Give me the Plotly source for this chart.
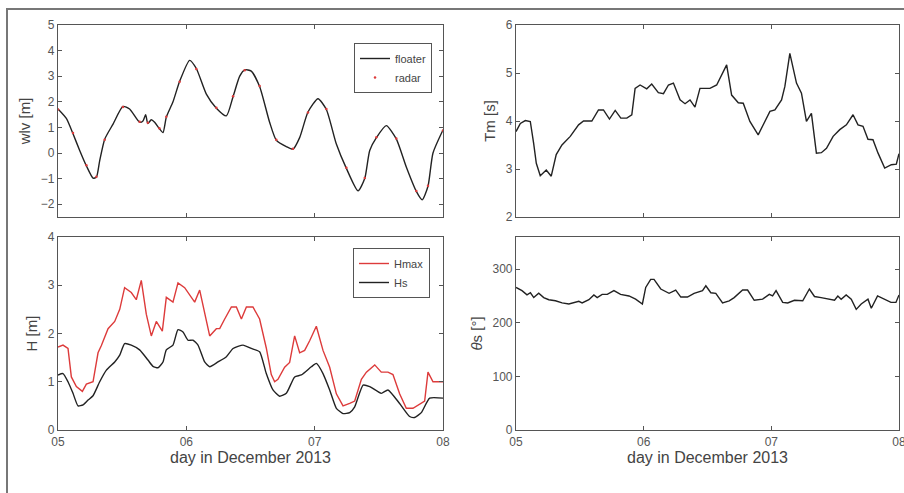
"""Four-panel wave / water level plot - December 2013"""

import plotly.graph_objects as go

# ---- data ----
tick_vals = [5, 6, 7, 8]
tick_text = ["05", "06", "07", "08"]

wlv_day = [5.000, 5.065, 5.117, 5.169, 5.221, 5.273, 5.299, 5.325, 5.364, 5.429,
           5.506, 5.558, 5.636, 5.662, 5.683, 5.700, 5.727, 5.753, 5.790, 5.818,
           5.844, 5.896, 5.948, 6.026, 6.078, 6.156, 6.234, 6.312, 6.364, 6.416,
           6.455, 6.506, 6.571, 6.649, 6.701, 6.779, 6.831, 6.883, 6.948, 7.026,
           7.091, 7.169, 7.247, 7.338, 7.390, 7.429, 7.481, 7.558, 7.636, 7.714,
           7.792, 7.838, 7.883, 7.922, 8.000]
wlv_floater = [1.72, 1.35, 0.75, 0.10, -0.50, -0.98, -0.95, -0.30, 0.54, 1.13,
               1.82, 1.72, 1.20, 1.25, 1.50, 1.15, 1.30, 1.20, 0.95, 0.80,
               1.40, 2.00, 2.80, 3.62, 3.30, 2.30, 1.75, 1.45, 2.20, 3.00,
               3.25, 3.20, 2.60, 1.20, 0.50, 0.25, 0.15, 0.60, 1.60, 2.12,
               1.70, 0.35, -0.60, -1.48, -1.00, 0.10, 0.60, 1.07, 0.55, -0.55,
               -1.50, -1.83, -1.30, 0.00, 0.90]

radar_day = [5.000, 5.117, 5.221, 5.299, 5.364, 5.506, 5.636, 5.700, 5.790, 5.844,
             5.948, 6.078, 6.234, 6.364, 6.455, 6.571, 6.701, 6.831, 6.948, 7.091,
             7.247, 7.390, 7.481, 7.636, 7.792, 7.883, 8.000]
radar_wlv = [1.70, 0.78, -0.48, -0.93, 0.52, 1.80, 1.22, 1.18, 0.97, 1.42,
             2.78, 3.28, 1.77, 2.22, 3.23, 2.62, 0.52, 0.17, 1.58, 1.72,
             -0.58, -0.98, 0.62, 0.57, -1.48, -1.28, 0.88]

hmax_day = [5.000, 5.039, 5.078, 5.104, 5.143, 5.190, 5.221, 5.260, 5.273, 5.312,
            5.338, 5.390, 5.442, 5.481, 5.519, 5.571, 5.610, 5.649, 5.688, 5.727,
            5.766, 5.813, 5.844, 5.896, 5.935, 5.987, 6.065, 6.104, 6.143, 6.182,
            6.234, 6.260, 6.299, 6.351, 6.390, 6.429, 6.468, 6.519, 6.571, 6.623,
            6.662, 6.688, 6.714, 6.766, 6.805, 6.844, 6.883, 6.922, 6.961, 7.013,
            7.065, 7.117, 7.169, 7.221, 7.273, 7.312, 7.364, 7.403, 7.468, 7.519,
            7.571, 7.610, 7.662, 7.714, 7.766, 7.831, 7.857, 7.883, 7.922, 8.000]
hmax = [1.72, 1.76, 1.69, 1.10, 0.90, 0.80, 0.95, 1.00, 1.00, 1.60,
        1.75, 2.10, 2.25, 2.50, 2.95, 2.85, 2.70, 3.10, 2.40, 1.95,
        2.25, 2.05, 2.75, 2.65, 3.05, 2.95, 2.65, 2.90, 2.45, 1.95,
        2.10, 2.10, 2.30, 2.55, 2.55, 2.30, 2.55, 2.55, 2.30, 1.70,
        1.15, 1.00, 1.05, 1.30, 1.40, 1.95, 1.60, 1.65, 1.85, 2.15,
        1.65, 1.30, 0.75, 0.50, 0.55, 0.60, 1.05, 1.20, 1.35, 1.20,
        1.20, 1.15, 0.75, 0.45, 0.45, 0.55, 0.60, 1.20, 1.00, 1.00]

hs_day = [5.000, 5.039, 5.078, 5.117, 5.156, 5.195, 5.234, 5.273, 5.325, 5.377,
          5.442, 5.481, 5.519, 5.571, 5.636, 5.701, 5.740, 5.779, 5.818, 5.844,
          5.896, 5.935, 5.974, 6.013, 6.052, 6.091, 6.143, 6.182, 6.247, 6.312,
          6.364, 6.442, 6.506, 6.571, 6.623, 6.675, 6.727, 6.779, 6.844, 6.896,
          6.974, 7.013, 7.065, 7.117, 7.169, 7.221, 7.273, 7.312, 7.377, 7.429,
          7.519, 7.571, 7.662, 7.740, 7.779, 7.831, 7.896, 8.000]
hs = [1.14, 1.17, 1.00, 0.76, 0.50, 0.52, 0.62, 0.71, 1.00, 1.24,
      1.41, 1.55, 1.79, 1.76, 1.66, 1.45, 1.32, 1.29, 1.41, 1.66,
      1.76, 2.08, 2.03, 1.86, 1.86, 1.76, 1.41, 1.31, 1.41, 1.52,
      1.69, 1.76, 1.69, 1.62, 1.17, 0.83, 0.70, 0.76, 1.10, 1.14,
      1.31, 1.38, 1.17, 0.83, 0.45, 0.34, 0.36, 0.48, 0.93, 0.90,
      0.76, 0.83, 0.55, 0.28, 0.26, 0.36, 0.66, 0.66]

tm_day = [5.000, 5.034, 5.073, 5.112, 5.138, 5.159, 5.190, 5.237, 5.276, 5.315,
          5.360, 5.425, 5.490, 5.529, 5.594, 5.646, 5.685, 5.732, 5.777, 5.821,
          5.868, 5.907, 5.933, 5.972, 6.024, 6.063, 6.115, 6.155, 6.194, 6.233,
          6.285, 6.324, 6.363, 6.402, 6.441, 6.519, 6.572, 6.650, 6.689, 6.741,
          6.780, 6.832, 6.897, 6.989, 7.028, 7.080, 7.106, 7.145, 7.197, 7.236,
          7.275, 7.314, 7.353, 7.392, 7.432, 7.484, 7.536, 7.588, 7.640, 7.679,
          7.718, 7.757, 7.796, 7.836, 7.888, 7.940, 7.979, 8.000]
tm = [3.78, 3.95, 4.01, 3.99, 3.54, 3.12, 2.86, 2.98, 2.85, 3.30,
      3.50, 3.68, 3.92, 4.00, 4.00, 4.23, 4.23, 4.04, 4.22, 4.06,
      4.06, 4.13, 4.68, 4.75, 4.67, 4.77, 4.59, 4.57, 4.75, 4.79,
      4.44, 4.36, 4.44, 4.29, 4.68, 4.68, 4.75, 5.17, 4.54, 4.38,
      4.37, 3.99, 3.71, 4.20, 4.23, 4.44, 4.72, 5.41, 4.79, 4.58,
      3.99, 4.16, 3.33, 3.34, 3.43, 3.68, 3.82, 3.92, 4.13, 3.92,
      3.89, 3.62, 3.61, 3.33, 3.02, 3.09, 3.10, 3.32]

theta_day = [5.000, 5.047, 5.086, 5.113, 5.139, 5.178, 5.217, 5.257, 5.309, 5.361,
             5.414, 5.453, 5.492, 5.518, 5.571, 5.610, 5.636, 5.675, 5.715, 5.767,
             5.819, 5.885, 5.937, 5.990, 6.016, 6.055, 6.081, 6.134, 6.199, 6.251,
             6.291, 6.343, 6.395, 6.461, 6.487, 6.526, 6.565, 6.618, 6.670, 6.709,
             6.775, 6.814, 6.866, 6.932, 6.984, 7.010, 7.037, 7.089, 7.128, 7.181,
             7.246, 7.298, 7.338, 7.390, 7.442, 7.495, 7.521, 7.547, 7.586, 7.626,
             7.665, 7.704, 7.757, 7.783, 7.832, 7.885, 7.937, 7.976, 8.000]
theta = [266, 260, 252, 256, 247, 255, 247, 243, 241, 237,
         235, 238, 240, 237, 243, 252, 247, 253, 253, 260,
         253, 250, 244, 235, 266, 281, 281, 263, 255, 261,
         248, 248, 255, 260, 269, 256, 255, 237, 241, 247,
         261, 261, 242, 244, 253, 250, 260, 238, 237, 242,
         241, 263, 249, 247, 244, 242, 250, 244, 252, 244,
         225, 235, 244, 227, 250, 244, 238, 238, 252]

# ---- figure ----
W, H = 904, 493
BLACK = "#222222"
RED = "#dd3b3b"
AX = "#555555"
FONT = "Liberation Sans, Arial, sans-serif"

fig = go.Figure()
fig.add_trace(go.Scatter(x=wlv_day, y=wlv_floater, mode="lines", name="floater",
                         line=dict(color=BLACK, width=1.4, shape="spline", smoothing=0.6),
                         xaxis="x", yaxis="y", legend="legend"))
fig.add_trace(go.Scatter(x=radar_day, y=radar_wlv, mode="markers", name="radar",
                         marker=dict(color=RED, size=2.5),
                         xaxis="x", yaxis="y", legend="legend"))
fig.add_trace(go.Scatter(x=hmax_day, y=hmax, mode="lines", name="Hmax",
                         line=dict(color=RED, width=1.4),
                         xaxis="x2", yaxis="y2", legend="legend2"))
fig.add_trace(go.Scatter(x=hs_day, y=hs, mode="lines", name="Hs",
                         line=dict(color=BLACK, width=1.4, shape="spline", smoothing=0.5),
                         xaxis="x2", yaxis="y2", legend="legend2"))
fig.add_trace(go.Scatter(x=tm_day, y=tm, mode="lines", showlegend=False,
                         line=dict(color=BLACK, width=1.4),
                         xaxis="x3", yaxis="y3"))
fig.add_trace(go.Scatter(x=theta_day, y=theta, mode="lines", showlegend=False,
                         line=dict(color=BLACK, width=1.4),
                         xaxis="x4", yaxis="y4"))

left = [58 / W, 443 / W]
right = [516 / W, 899 / W]
top = [(H - 217) / H, (H - 25) / H]
bottom = [(H - 430) / H, (H - 237) / H]

def xax(dom, anchor, labels):
    return dict(domain=dom, anchor=anchor, range=[5, 8], tickvals=tick_vals,
                ticktext=tick_text, showticklabels=labels, ticks="inside", ticklen=4,
                tickcolor=AX, showline=True, linecolor=AX, linewidth=1.2, mirror="ticks",
                showgrid=False, zeroline=False, automargin=False,
                ticklabeloverflow="allow",
                tickfont=dict(size=12, color="#555"),
                title=dict(text="day in December 2013" if labels else "",
                           font=dict(size=16, color="#444"), standoff=4))

def yax(dom, anchor, rng, dt, title):
    return dict(domain=dom, anchor=anchor, range=rng, dtick=dt, ticks="inside", ticklen=4,
                tickcolor=AX, showline=True, linecolor=AX, linewidth=1.2, mirror="ticks",
                showgrid=False, zeroline=False, automargin=False,
                tickfont=dict(size=12, color="#555"),
                title=dict(text=title, font=dict(size=15, color="#444"), standoff=6))

fig.update_layout(
    width=W, height=H, margin=dict(l=0, r=0, t=0, b=0),
    paper_bgcolor="white", plot_bgcolor="white",
    font=dict(family=FONT, size=12, color="#444"),
    xaxis=xax(left, "y", False),
    yaxis=yax(top, "x", [-2.5, 5], 1, "wlv [m]"),
    xaxis2=xax(left, "y2", True),
    yaxis2=yax(bottom, "x2", [0, 4], 1, "H [m]"),
    xaxis3=xax(right, "y3", False),
    yaxis3=yax(top, "x3", [2, 6], 1, "Tm [s]"),
    xaxis4=xax(right, "y4", True),
    yaxis4=yax(bottom, "x4", [0, 360], 100, "<i>θ</i>s [°]"),
    legend=dict(x=432 / W, y=(H - 43) / H, xanchor="right", yanchor="top",
                bgcolor="white", bordercolor=AX, borderwidth=1,
                font=dict(size=11, color="#444"), tracegroupgap=0),
    legend2=dict(x=430 / W, y=(H - 248) / H, xanchor="right", yanchor="top",
                 bgcolor="white", bordercolor=AX, borderwidth=1,
                 font=dict(size=11, color="#444"), tracegroupgap=0),
    shapes=[dict(type="rect", xref="paper", yref="paper",
                 x0=7 / W, x1=1.02, y0=-0.02, y1=(H - 9) / H,
                 line=dict(color="#777", width=2))],
)

# page body has an 8px default margin; drop it so the figure fills the window
fig.write_html("out.html", config={"displayModeBar": False},
               post_script="document.body.style.margin='0';document.body.style.overflow='hidden';")
